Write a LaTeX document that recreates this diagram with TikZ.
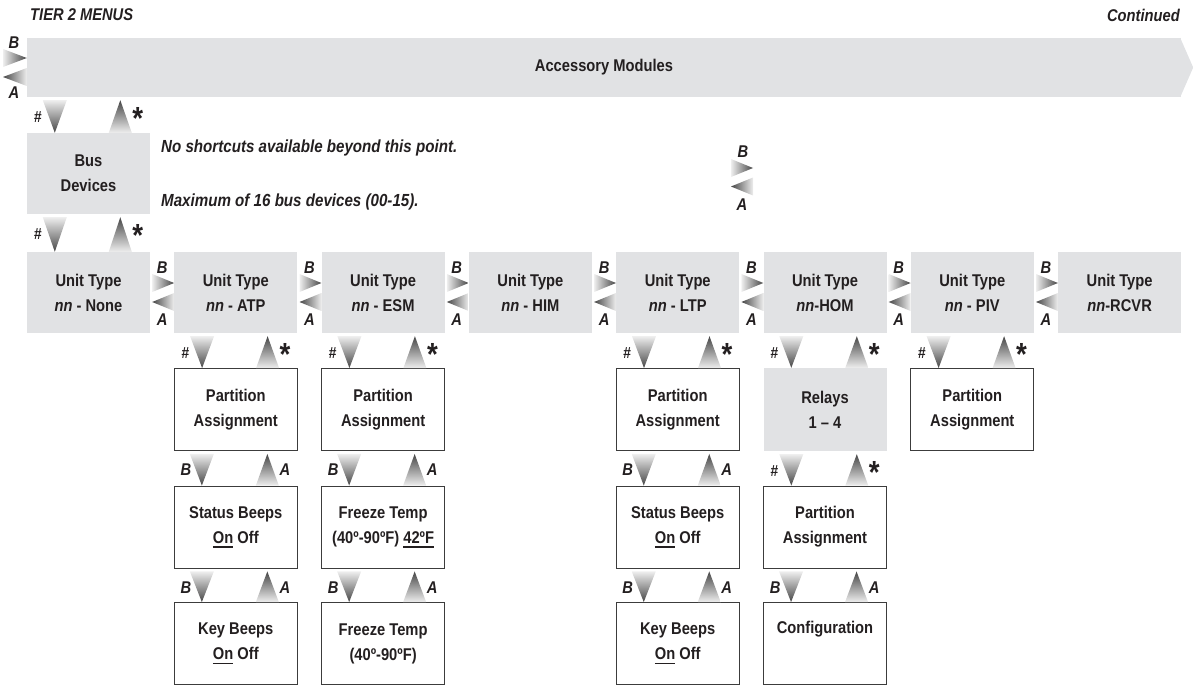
\documentclass[tikz,border=0pt]{standalone}
\usepackage{fontspec}
\setmainfont{Liberation Sans}[FakeStretch=0.865]
\usetikzlibrary{calc}
\definecolor{boxgray}{RGB}{225,226,228}
\definecolor{tl}{RGB}{238,238,238}
\definecolor{td}{RGB}{70,70,70}
\definecolor{edge}{RGB}{60,60,60}
\definecolor{ink}{RGB}{35,31,32}
\newcommand\uln[1]{\setbox0\hbox{#1}\rlap{\usebox0}\rule[-4.5pt]{\wd0}{1.6pt}}
\tikzset{
 base/.style={font=\bfseries\fontsize{17}{25}\selectfont, align=center, inner sep=0pt, text=ink},
 gbox/.style={base, fill=boxgray, minimum width=123pt, minimum height=81pt},
 wbox/.style={base, draw=edge, line width=0.9pt, fill=white, minimum width=123pt, minimum height=82pt},
 lbl/.style={font=\bfseries\itshape\fontsize{17}{17}\selectfont, inner sep=0pt, text=ink},
 hsh/.style={font=\bfseries\itshape\fontsize{16}{16}\selectfont, inner sep=0pt, text=ink},
 ast/.style={font=\bfseries\fontsize{32}{32}\selectfont, inner sep=0pt, text=ink},
 note/.style={font=\bfseries\itshape\fontsize{17.5}{17.5}\selectfont, inner sep=0pt, anchor=west, text=ink},
 ttl/.style={font=\bfseries\itshape\fontsize{17}{17}\selectfont, inner sep=0pt, text=ink},
}
\newcommand\vtris[2]{%
 \shade[top color=tl,bottom color=td] let \p1=(#1.south west), \p2=(#2.north) in
   (\x1+16pt,\y1-3pt) -- (\x1+40pt,\y1-3pt) -- (\x1+28pt,\y2) -- cycle;
 \shade[top color=td,bottom color=tl] let \p1=(#1.south west), \p2=(#2.north) in
   (\x1+82pt,\y2) -- (\x1+105pt,\y2) -- (\x1+93.5pt,\y1-3pt) -- cycle;}
\newcommand\vhs[2]{\vtris{#1}{#2}%
 \path let \p1=(#1.south west) in node[hsh] (#1-#2-h) at (\x1+11pt,\y1-20pt) {\#}
   node[ast, anchor=north] (#1-#2-s) at (\x1+111pt,\y1-10pt) {*};}
\newcommand\vba[2]{\vtris{#1}{#2}%
 \path let \p1=(#1.south west) in node[lbl] (#1-#2-b) at (\x1+12pt,\y1-19pt) {B}
   node[lbl] (#1-#2-a) at (\x1+111pt,\y1-19pt) {A};}
\newcommand\hlink[2]{%
 \shade[left color=tl,right color=td] let \p1=(#1.east), \p2=(#2.west) in
   (\x1+2pt,\y1+18.5pt) -- (\x1+2pt,\y1+0.5pt) -- (\x2,\y1+9.5pt) -- cycle;
 \shade[left color=td,right color=tl] let \p1=(#1.east), \p2=(#2.west) in
   (\x2,\y1-0.5pt) -- (\x2,\y1-18.5pt) -- (\x1+2pt,\y1-9.5pt) -- cycle;
 \path let \p1=(#1.east) in node[lbl] (#1-#2-b) at (\x1+12pt,\y1+25pt) {B}
   node[lbl] (#1-#2-a) at (\x1+12pt,\y1-27pt) {A};}
\begin{document}
\begin{tikzpicture}[x=1pt,y=-1pt]
\useasboundingbox (0,0) rectangle (1193,685);
% titles
\node[ttl, anchor=west] (tier) at (30,15) {TIER 2 MENUS};
\node[ttl, anchor=east] (cont) at (1180,15) {Continued};
% accessory bar
\node[gbox, minimum width=1154pt, minimum height=59pt] (acc) at (604,67.5) {Accessory Modules};
\fill[boxgray] ($(acc.north east)+(-1,0)$) -- ($(acc.east)+(12,0)$) -- ($(acc.south east)+(-1,0)$) -- cycle;
\coordinate (barl) at (3,67.5);
\shade[left color=tl,right color=td] let \p1=(barl), \p2=(acc.west) in
  (\x1,\y2+18.5pt) -- (\x1,\y2+0.5pt) -- (\x2,\y2+9.5pt) -- cycle;
\shade[left color=td,right color=tl] let \p1=(barl), \p2=(acc.west) in
  (\x2,\y2-0.5pt) -- (\x2,\y2-18.5pt) -- (\x1,\y2-9.5pt) -- cycle;
\node[lbl] (barB) at (14,43) {B};
\node[lbl] (barA) at (14,93) {A};
% bus devices
\node[gbox] (bus) at (88.5,173.5) {Bus\\Devices};
\node[note] (n1) at (161,148) {No shortcuts available beyond this point.};
\node[note] (n2) at (161,202) {Maximum of 16 bus devices (00-15).};
% floating B/A
\shade[left color=tl,right color=td] (731,159) -- (731,177) -- (753,168) -- cycle;
\shade[left color=td,right color=tl] (753,177.5) -- (753,195.5) -- (731,186.5) -- cycle;
\node[lbl] (flB) at (743,152) {B};
\node[lbl] (flA) at (742,205) {A};
% unit types
\node[gbox] (u0) at (88.5,292.5) {Unit Type\\\textit{nn} - None};
\node[gbox] (u1) at (235.8,292.5) {Unit Type\\\textit{nn} - ATP};
\node[gbox] (u2) at (383.1,292.5) {Unit Type\\\textit{nn} - ESM};
\node[gbox] (u3) at (530.4,292.5) {Unit Type\\\textit{nn} - HIM};
\node[gbox] (u4) at (677.7,292.5) {Unit Type\\\textit{nn} - LTP};
\node[gbox] (u5) at (825,292.5) {Unit Type\\\textit{nn}-HOM};
\node[gbox] (u6) at (972.3,292.5) {Unit Type\\\textit{nn} - PIV};
\node[gbox] (u7) at (1119.6,292.5) {Unit Type\\\textit{nn}-RCVR};
% row 2
\node[wbox] (p1) at (235.8,409.5) {Partition\\Assignment};
\node[wbox] (p2) at (383.1,409.5) {Partition\\Assignment};
\node[wbox] (p4) at (677.7,409.5) {Partition\\Assignment};
\node[gbox, minimum height=83pt] (r5) at (825,409.5) {Relays\\1 – 4};
\node[wbox] (p6) at (972.3,409.5) {Partition\\Assignment};
% row 3
\node[wbox] (s1) at (235.8,527) {Status Beeps\\\uln{On} Off};
\node[wbox] (f2) at (383.1,527) {Freeze Temp\\(40º-90ºF) \uln{42ºF}};
\node[wbox] (s4) at (677.7,527) {Status Beeps\\\uln{On} Off};
\node[wbox] (q5) at (825,527) {Partition\\Assignment};
% row 4
\node[wbox] (k1) at (235.8,643.5) {Key Beeps\\\uln{On} Off};
\node[wbox] (t2) at (383.1,643.5) {Freeze Temp\\(40º-90ºF)};
\node[wbox] (k4) at (677.7,643.5) {Key Beeps\\\uln{On} Off};
\node[wbox] (c5) at (825,643.5) {Configuration\\\strut};
% links
\vhs{acc}{bus}
\vhs{bus}{u0}
\hlink{u0}{u1}
\hlink{u1}{u2}
\hlink{u2}{u3}
\hlink{u3}{u4}
\hlink{u4}{u5}
\hlink{u5}{u6}
\hlink{u6}{u7}
\vhs{u1}{p1}
\vhs{u2}{p2}
\vhs{u4}{p4}
\vhs{u5}{r5}
\vhs{u6}{p6}
\vba{p1}{s1}
\vba{s1}{k1}
\vba{p2}{f2}
\vba{f2}{t2}
\vba{p4}{s4}
\vba{s4}{k4}
\vhs{r5}{q5}
\vba{q5}{c5}
\end{tikzpicture}
\end{document}
